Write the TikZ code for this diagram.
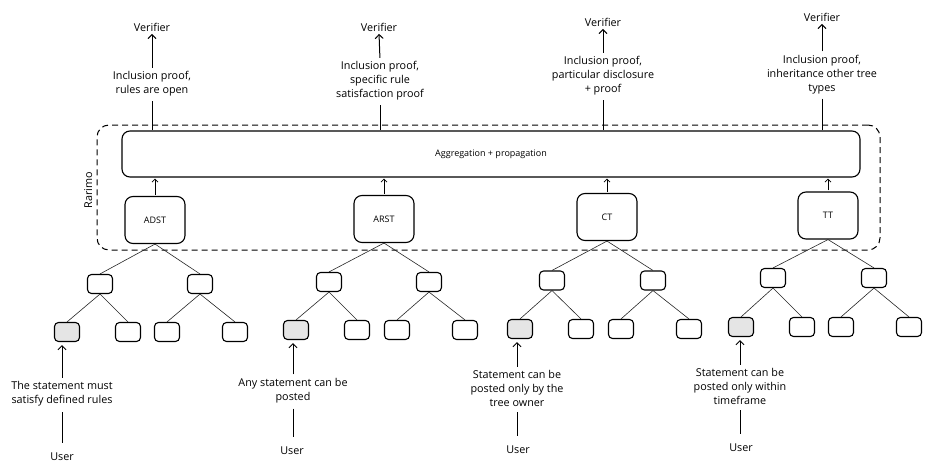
\documentclass[tikz,border=0pt]{standalone}
\usepackage{fontspec}
\setmainfont{Open Sans}
\usetikzlibrary{arrows.meta}
\begin{document}
\begin{tikzpicture}[x=1pt,y=-1pt,
  txt/.style={font=\fontsize{10.8}{14}\selectfont, align=center, inner sep=1.5pt},
  small/.style={font=\fontsize{9}{10}\selectfont},
  rootbox/.style={draw, line width=1.1pt, rounded corners=8pt, minimum width=60pt, minimum height=47pt, small},
  sbox/.style={draw, line width=1.1pt, rounded corners=4pt, minimum width=25pt, minimum height=19pt, inner sep=0pt},
  gbox/.style={sbox, fill=black!10},
  tline/.style={line width=0.6pt, draw=black!85},
  arr/.style={line width=1pt, -{Straight Barb[length=4pt,width=8pt]}},
  sarr/.style={line width=0.8pt, -{Straight Barb[length=3pt,width=6pt]}},
  plain/.style={line width=1pt}
]
\useasboundingbox (0,0) rectangle (935,471);

% Rarimo container
\node[draw, dashed, dash pattern=on 6pt off 4pt, line width=1pt, rounded corners=12pt,
      minimum width=783pt, minimum height=125pt, inner sep=0pt] (rarimo) at (488.5,187.5) {};
\node[txt, rotate=90, anchor=south] (rlab) at (94,190) {Rarimo};

% Aggregation box
\node[draw, line width=1.1pt, rounded corners=8pt, minimum width=738pt, minimum height=46pt, small, fill=white] (agg) at (491,154) {Aggregation + propagation};

% Verifiers and labels
\node[txt] (ver1) at (152,27) {Verifier};
\node[txt] (lab1) at (152,84) {Inclusion proof,\\rules are open};
\node[txt] (ver2) at (379,27) {Verifier};
\node[txt] (lab2) at (380,81) {Inclusion proof,\\specific rule\\satisfaction proof};
\node[txt] (ver3) at (603,22) {Verifier};
\node[txt] (lab3) at (603,76) {Inclusion proof,\\particular disclosure\\+ proof};
\node[txt] (ver4) at (822,17) {Verifier};
\node[txt] (lab4) at (822,74.5) {Inclusion proof,\\inheritance other tree\\types};

\foreach \i in {1,2,3,4}{
  \draw[arr, shorten <=2pt, shorten >=1pt] (lab\i.north) -- (ver\i.south);
  \draw[plain, shorten <=3pt] (lab\i.south) -- (lab\i.south |- agg.north);
}

% Roots
\node[rootbox] (r1) at (155,220) {ADST};
\node[rootbox] (r2) at (384,219) {ARST};
\node[rootbox] (r3) at (607,217) {CT};
\node[rootbox] (r4) at (828,215.5) {TT};
\foreach \i in {1,2,3,4}{
  \draw[sarr, shorten <=1pt, shorten >=1pt] (r\i.north) -- (r\i.north |- agg.south);
}

% Tree 1
\node[sbox] (c11) at (100,284) {};
\node[sbox] (c12) at (200,284) {};
\node[gbox] (l11) at (67,332) {};
\node[sbox] (l12) at (128,332) {};
\node[sbox] (l13) at (167,332) {};
\node[sbox] (l14) at (235,332) {};
% Tree 2
\node[sbox] (c21) at (329,282) {};
\node[sbox] (c22) at (429,282) {};
\node[gbox] (l21) at (296,330) {};
\node[sbox] (l22) at (357,330) {};
\node[sbox] (l23) at (397,330) {};
\node[sbox] (l24) at (465,330) {};
% Tree 3
\node[sbox] (c31) at (552,280.5) {};
\node[sbox] (c32) at (653,280.5) {};
\node[gbox] (l31) at (520,329) {};
\node[sbox] (l32) at (581,329) {};
\node[sbox] (l33) at (621,329) {};
\node[sbox] (l34) at (689,329) {};
% Tree 4
\node[sbox] (c41) at (773,278) {};
\node[sbox] (c42) at (874,278) {};
\node[gbox] (l41) at (741,327) {};
\node[sbox] (l42) at (802,327) {};
\node[sbox] (l43) at (841,327) {};
\node[sbox] (l44) at (909,327) {};

\foreach \i in {1,2,3,4}{
  \draw[tline] (r\i.south) -- (c\i1.north);
  \draw[tline] (r\i.south) -- (c\i2.north);
  \draw[tline] (c\i1.south) -- (l\i1.north);
  \draw[tline] (c\i1.south) -- (l\i2.north);
  \draw[tline] (c\i2.south) -- (l\i3.north);
  \draw[tline] (c\i2.south) -- (l\i4.north);
}

% Bottom labels and users
\node[txt] (b1) at (62,394) {The statement must\\satisfy defined rules};
\node[txt] (u1) at (62,457) {User};
\node[txt] (b2) at (293,390.5) {Any statement can be\\posted};
\node[txt] (u2) at (292,451) {User};
\node[txt] (b3) at (517,388.5) {Statement can be\\posted only by the\\tree owner};
\node[txt] (u3) at (518,450) {User};
\node[txt] (b4) at (740,386.5) {Statement can be\\posted only within\\timeframe};
\node[txt] (u4) at (741,448) {User};

\foreach \i in {1,2,3,4}{
  \draw[arr, shorten <=2pt, shorten >=3pt] (b\i.north) -- (b\i.north |- l\i1.south);
  \draw[plain, shorten <=4pt, shorten >=8pt] (b\i.south) -- (b\i.south |- u\i.north);
}
\end{tikzpicture}
\end{document}
